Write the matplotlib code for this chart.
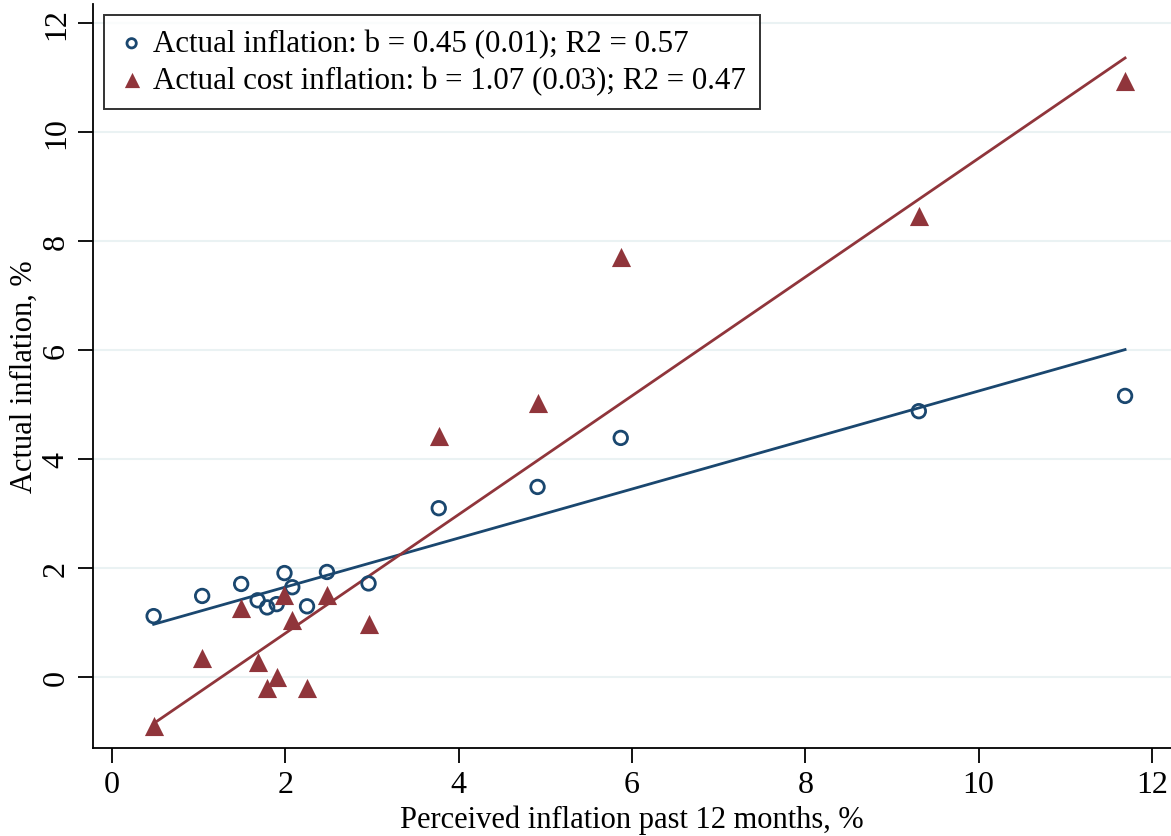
import matplotlib.pyplot as plt
import numpy as np

plt.rcParams['font.family'] = ['Liberation Serif', 'DejaVu Serif']

# perceived inflation (x) and the two actual series
perceived = [0.48, 1.04, 1.49, 1.68, 1.79, 1.90, 1.99, 2.08, 2.25, 2.48, 2.96,
             3.77, 4.91, 5.87, 9.31, 11.69]
actual = [1.12, 1.49, 1.71, 1.41, 1.28, 1.34, 1.91, 1.65, 1.30, 1.93, 1.72,
          3.10, 3.49, 4.39, 4.88, 5.16]
actual_cost = [-0.90, 0.35, 1.27, 0.28, -0.20, 0.00, 1.50, 1.05, -0.20, 1.50, 0.97,
               4.42, 5.03, 7.71, 8.46, 10.94]

# fitted lines (values at min and max x)
fit_x = [0.48, 11.69]
fit_actual = [0.97, 6.01]
fit_cost = [-0.85, 11.36]

labels = ['Actual inflation: b = 0.45 (0.01); R2 = 0.57',
          'Actual cost inflation: b = 1.07 (0.03); R2 = 0.47']

navy = '#1a476f'
maroon = '#90353b'

fig = plt.figure(figsize=(11.71, 8.37), dpi=100)
ax = fig.add_axes([0.0794, 0.1051, 0.9206, 0.8889])

ax.plot(fit_x, fit_actual, color=navy, lw=2.0, zorder=2)
ax.plot(fit_x, fit_cost, color=maroon, lw=2.0, zorder=2)
ax.scatter(perceived, actual, s=95, facecolors='none', edgecolors=navy,
           linewidths=2.0, marker='o', zorder=3, label=labels[0])
ax.scatter(perceived, actual_cost, s=190, color=maroon, marker='^',
           linewidths=0, zorder=3, label=labels[1])

ax.set_xlim(-0.22, 12.22)
ax.set_ylim(-1.30, 12.35)
ax.set_xticks(np.arange(0, 13, 2))
ax.set_yticks(np.arange(0, 13, 2))
ax.grid(axis='y', color='#eaf2f3', lw=1.5, zorder=0)
ax.set_axisbelow(True)

for s in ['top', 'right']:
    ax.spines[s].set_visible(False)
for s in ['left', 'bottom']:
    ax.spines[s].set_linewidth(1.3)

ax.tick_params(direction='out', length=11, width=1.3, labelsize=23, pad=5)
plt.setp(ax.get_yticklabels(), rotation=90, va='center')

ax.set_xlabel('Perceived inflation past 12 months, %', fontsize=22, labelpad=4)
ax.set_ylabel('Actual inflation, %', fontsize=22, labelpad=2)

leg = ax.legend(loc='upper left', bbox_to_anchor=(0.010, 0.985), fontsize=22.3,
                frameon=True, fancybox=False, edgecolor='black',
                handletextpad=0.25, borderpad=0.45, labelspacing=0.25,
                handlelength=0.9, borderaxespad=0)
leg.get_frame().set_linewidth(1.4)
leg.legend_handles[0].set_sizes([45])
leg.legend_handles[1].set_sizes([120])

fig.savefig('out.png', dpi=100)
